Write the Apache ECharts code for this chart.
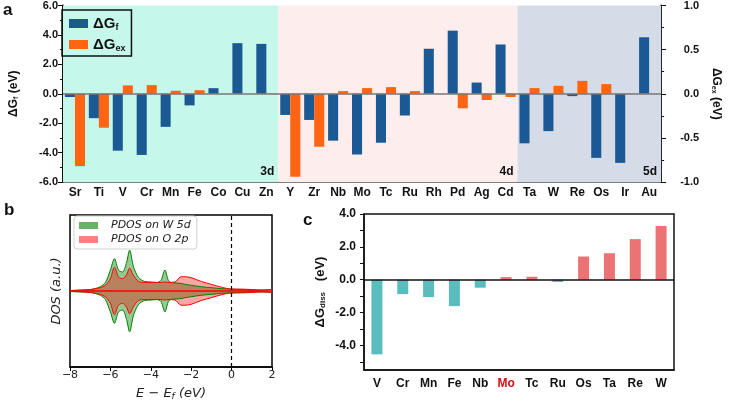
<!DOCTYPE html>
<html lang="en">
<head>
  <meta charset="UTF-8">
  <title>Formation / exchange / dissolution energies</title>
  <style>
    html, body { margin: 0; padding: 0; background: #fff; }
    #main { width: 730px; height: 402px; }
  </style>
</head>
<body>
  <div id="main"></div>
  <script src="https://cdn.jsdelivr.net/npm/echarts@6/dist/echarts.min.js"></script>
  <script>
    // ---- panel a: ΔGf (left axis) and ΔGex (right axis) per dopant
    var elements = ['Sr', 'Ti', 'V', 'Cr', 'Mn', 'Fe', 'Co', 'Cu', 'Zn',
                    'Y', 'Zr', 'Nb', 'Mo', 'Tc', 'Ru', 'Rh', 'Pd', 'Ag', 'Cd',
                    'Ta', 'W', 'Re', 'Os', 'Ir', 'Au'];
    var dGf = [-0.22, -1.66, -3.87, -4.16, -2.25, -0.79, 0.38, 3.44, 3.39,
               -1.44, -1.78, -3.19, -4.13, -3.33, -1.48, 3.06, 4.29, 0.76, 3.35,
               -3.37, -2.54, -0.16, -4.36, -4.70, 3.84];
    var dGex = [-0.82, -0.385, 0.094, 0.098, 0.034, 0.04, 0.0, 0.0, 0.005,
                -0.94, -0.60, 0.03, 0.064, 0.075, 0.03, 0.0, -0.165, -0.071, -0.037,
                0.064, 0.09, 0.146, 0.109, -0.003, 0.0];
    // shaded blocks: first and last element of each row
    var blocks = [
      { name: '3d', from: 'Sr', to: 'Zn', color: '#c6f7eb' },
      { name: '4d', from: 'Y',  to: 'Cd', color: '#fdeeed' },
      { name: '5d', from: 'Ta', to: 'Au', color: '#d5dbe7' }
    ];

    // ---- panel b: PDOS (arbitrary units)
    var dosE = [-8, -7.5, -7, -6.75, -6.5, -6.25, -6, -5.8, -5.6, -5.4, -5.2, -5.05, -4.85, -4.6,
                -4.3, -4, -3.7, -3.5, -3.3, -3.1, -2.8, -2.5, -2.3, -2, -1.5, -1, -0.5, 0,
                0.5, 1, 1.5, 2];
    var dosW5d = [0.05, 0.1, 0.15, 0.25, 0.45, 0.9, 2.2, 3.4, 2.2, 2.0, 3.0, 4.3, 2.5, 1.4,
                  1.0, 0.95, 0.9, 1.1, 2.2, 1.0, 0.85, 0.8, 0.7, 0.6, 0.45, 0.35, 0.25, 0.2,
                  0.15, 0.1, 0.1, 0.15];
    var dosO2p = [0.05, 0.08, 0.15, 0.25, 0.35, 0.6, 1.3, 2.5, 1.5, 1.3, 1.7, 2.4, 1.6, 1.0,
                  0.9, 0.9, 0.9, 0.9, 0.95, 0.9, 0.95, 1.5, 1.5, 1.4, 1.0, 0.7, 0.4, 0.2,
                  0.2, 0.15, 0.1, 0.15];

    // ---- panel c: ΔGdiss
    var dissElements = ['V', 'Cr', 'Mn', 'Fe', 'Nb', 'Mo', 'Tc', 'Ru', 'Os', 'Ta', 'Re', 'W'];
    var dGdiss = [-4.55, -0.88, -1.06, -1.61, -0.49, 0.16, 0.18, -0.14, 1.41, 1.61, 2.47, 3.27];
    var dissLabelTicks = [-4, -2, 0, 2, 4];
    var dissTicks = [-5, -4, -3, -2, -1, 0, 1, 2, 3, 4];

    var ARIAL = 'Liberation Sans, Arial, sans-serif';
    var DEJAVU = 'DejaVu Sans, sans-serif';

    function pairs(xs, ys, sign) {
      return xs.map(function (x, i) { return [x, sign * ys[i]]; });
    }
    function minusSign(v) {
      return v < 0 ? '\u2212' + Math.abs(v) : String(v);
    }

    var bgAreas = blocks.map(function (b) {
      return [
        { name: b.name, xAxis: elements.indexOf(b.from) - 0.5, itemStyle: { color: b.color } },
        { xAxis: elements.indexOf(b.to) + 0.5 }
      ];
    });

    var boldLabel = { fontFamily: ARIAL, fontWeight: 'bold', fontSize: 11, color: '#111' };

    var chart = echarts.init(document.getElementById('main'));

    var option = {
      animation: false,
      backgroundColor: '#fff',
      textStyle: { fontFamily: ARIAL },
      graphic: [
        { type: 'text', left: 3, top: 2, style: { text: 'a', font: 'bold 17px ' + ARIAL, fill: '#111' } },
        { type: 'text', left: 4, top: 202, style: { text: 'b', font: 'bold 17px ' + ARIAL, fill: '#111' } },
        { type: 'text', left: 303, top: 212, style: { text: 'c', font: 'bold 17px ' + ARIAL, fill: '#111' } }
      ],
      legend: [
        {
          data: ['ΔGf', 'ΔGex'],
          orient: 'vertical', left: 62, top: 10,
          padding: [6, 6, 3, 7], itemGap: 5,
          itemWidth: 19, itemHeight: 9, icon: 'rect',
          borderColor: '#111', borderWidth: 1.5,
          formatter: function (n) { return n === 'ΔGf' ? '{b|ΔG}{s|f}' : '{b|ΔG}{s|ex}'; },
          textStyle: {
            rich: {
              b: { fontFamily: ARIAL, fontWeight: 'bold', fontSize: 15, color: '#111' },
              s: { fontFamily: ARIAL, fontWeight: 'bold', fontSize: 9, color: '#111', padding: [8, 0, 0, 0] }
            }
          }
        },
        {
          data: [
            { name: 'PDOS on W 5d', icon: 'rect', itemStyle: { color: 'rgba(0,128,0,0.6)' } },
            { name: 'PDOS on O 2p', icon: 'rect', itemStyle: { color: 'rgba(255,0,0,0.5)' } }
          ],
          orient: 'vertical', left: 74, top: 216,
          padding: [4, 6, 4, 5], itemGap: 3,
          itemWidth: 19, itemHeight: 7,
          borderColor: '#d0d0d0', borderWidth: 1, borderRadius: 3,
          backgroundColor: 'rgba(255,255,255,0.8)',
          textStyle: { fontFamily: DEJAVU, fontStyle: 'italic', fontSize: 11, color: '#222', padding: [0, 0, 0, 8] }
        }
      ],
      grid: [
        { left: 55, top: 4, width: 622, height: 178 },
        { left: 70, top: 215, width: 202, height: 161, show: true, borderColor: '#000', borderWidth: 1.5 },
        { left: 364, top: 214, width: 310, height: 156, show: true, borderColor: '#111', borderWidth: 1.5 }
      ],
      xAxis: [
        {
          gridIndex: 0, type: 'category', data: elements,
          axisLine: { onZero: false, lineStyle: { color: '#555', width: 1.5 } },
          axisTick: { alignWithLabel: true, length: 3, lineStyle: { color: '#111' } },
          axisLabel: Object.assign({ margin: 5, interval: 0 }, boldLabel, { fontSize: 12 })
        },
        {
          gridIndex: 0, type: 'value', min: -0.5, max: elements.length - 0.5, show: false,
          axisLine: { show: false }, axisTick: { show: false }, axisLabel: { show: false },
          splitLine: { show: false }
        },
        {
          gridIndex: 1, type: 'value', min: -8, max: 2, interval: 2,
          axisLine: { onZero: false, lineStyle: { color: '#000', width: 1.5 } },
          axisTick: { length: 4, lineStyle: { color: '#000' } },
          splitLine: { show: false },
          axisLabel: { fontFamily: DEJAVU, fontSize: 11, color: '#222', margin: 3, formatter: minusSign },
          name: '{i|E \u2212 E}{s|f}{i| (eV)}', nameLocation: 'middle', nameGap: 19,
          nameTextStyle: {
            rich: {
              i: { fontFamily: DEJAVU, fontStyle: 'italic', fontSize: 13, color: '#222' },
              s: { fontFamily: DEJAVU, fontStyle: 'italic', fontSize: 9, color: '#222', padding: [6, 0, 0, 0] }
            }
          }
        },
        {
          gridIndex: 2, type: 'category', data: dissElements,
          axisLine: { onZero: false, lineStyle: { color: '#111', width: 1.5 } },
          axisTick: { alignWithLabel: true, length: 4, interval: 0, lineStyle: { color: '#111' } },
          axisLabel: Object.assign({
            margin: 8, interval: 0,
            formatter: function (v) { return v === 'Mo' ? '{r|Mo}' : v; },
            rich: { r: { fontFamily: ARIAL, fontWeight: 'bold', fontSize: 12, color: '#d01010' } }
          }, boldLabel, { fontSize: 12 })
        }
      ],
      yAxis: [
        {
          gridIndex: 0, type: 'value', min: -6, max: 6, interval: 2,
          axisLine: { show: true, onZero: false, lineStyle: { color: '#111', width: 2 } },
          axisTick: { show: true, length: 5, lineStyle: { color: '#111' } },
          minorTick: { show: true, splitNumber: 2, length: 3, lineStyle: { color: '#111' } },
          splitLine: { show: false },
          axisLabel: Object.assign({ margin: 5, formatter: function (v) { return v.toFixed(1); } }, boldLabel),
          name: '{b|ΔG}{s|f}{b| (eV)}', nameLocation: 'middle', nameRotate: 90, nameGap: 43,
          nameTextStyle: {
            rich: {
              b: { fontFamily: ARIAL, fontWeight: 'bold', fontSize: 12, color: '#111' },
              s: { fontFamily: ARIAL, fontWeight: 'bold', fontSize: 7, color: '#111', padding: [5, 0, 0, 0] }
            }
          }
        },
        {
          gridIndex: 0, type: 'value', position: 'right', min: -1, max: 1, interval: 0.5,
          axisLine: { show: true, onZero: false, lineStyle: { color: '#111', width: 2 } },
          axisTick: { show: true, length: 5, lineStyle: { color: '#111' } },
          minorTick: { show: true, splitNumber: 2, length: 3, lineStyle: { color: '#111' } },
          splitLine: { show: false },
          axisLabel: Object.assign({ margin: 38, align: 'right', formatter: function (v) { return v.toFixed(1); } }, boldLabel),
          name: '{b|ΔG}{s|ex}{b| (eV)}', nameLocation: 'middle', nameRotate: -90, nameGap: 47,
          nameTextStyle: {
            rich: {
              b: { fontFamily: ARIAL, fontWeight: 'bold', fontSize: 12, color: '#111' },
              s: { fontFamily: ARIAL, fontWeight: 'bold', fontSize: 7, color: '#111', padding: [5, 0, 0, 0] }
            }
          }
        },
        {
          gridIndex: 1, type: 'value', min: -8, max: 8,
          axisLine: { show: false }, axisTick: { show: false }, axisLabel: { show: false },
          splitLine: { show: false },
          name: 'DOS (a.u.)', nameLocation: 'middle', nameRotate: 90, nameGap: 7,
          nameTextStyle: { fontFamily: DEJAVU, fontStyle: 'italic', fontSize: 13, color: '#222' }
        },
        {
          gridIndex: 2, type: 'value', min: -5.5, max: 4,
          axisLine: { show: true, onZero: false, lineStyle: { color: '#111', width: 1.5 } },
          axisTick: { show: true, length: 4, customValues: dissTicks, lineStyle: { color: '#111' } },
          splitLine: { show: false },
          axisLabel: Object.assign({ margin: 8, customValues: dissLabelTicks,
            formatter: function (v) { return v.toFixed(1); } }, boldLabel, { fontSize: 12 }),
          name: '{b|ΔG}{s|diss}{b|   (eV)}', nameLocation: 'middle', nameRotate: 90, nameGap: 37,
          nameTextStyle: {
            rich: {
              b: { fontFamily: ARIAL, fontWeight: 'bold', fontSize: 13, color: '#111' },
              s: { fontFamily: ARIAL, fontWeight: 'bold', fontSize: 8, color: '#111', padding: [6, 0, 0, 0] }
            }
          }
        }
      ],
      series: [
        // block backgrounds
        {
          type: 'line', xAxisIndex: 1, yAxisIndex: 0, data: [], z: 0, silent: true,
          markArea: {
            silent: true,
            label: { show: true, position: 'insideBottomRight', distance: 4,
                     fontFamily: ARIAL, fontWeight: 'bold', fontSize: 12, color: '#111' },
            data: bgAreas
          }
        },
        {
          name: 'ΔGf', type: 'bar', xAxisIndex: 0, yAxisIndex: 0, data: dGf,
          barWidth: '42%', barGap: '0%', itemStyle: { color: '#1a5994' },
          markLine: {
            silent: true, symbol: 'none', label: { show: false },
            lineStyle: { color: '#777', width: 1.5, type: 'solid' },
            data: [{ yAxis: 0 }]
          }
        },
        {
          name: 'ΔGex', type: 'bar', xAxisIndex: 0, yAxisIndex: 1, data: dGex,
          barWidth: '42%', barGap: '0%', itemStyle: { color: '#ff6412' }
        },
        // PDOS, mirrored for the two spin channels
        {
          name: 'PDOS on W 5d', type: 'line', xAxisIndex: 2, yAxisIndex: 2, smooth: 0.3,
          showSymbol: false, data: pairs(dosE, dosW5d, 1),
          lineStyle: { color: 'green', width: 1 }, itemStyle: { color: 'green' },
          areaStyle: { color: 'rgba(0,128,0,0.6)' },
          markLine: {
            silent: true, symbol: 'none', label: { show: false },
            lineStyle: { color: '#000', width: 1.2, type: [4, 3] },
            data: [{ xAxis: 0 }]
          }
        },
        {
          name: 'PDOS on W 5d', type: 'line', xAxisIndex: 2, yAxisIndex: 2, smooth: 0.3,
          showSymbol: false, data: pairs(dosE, dosW5d, -1),
          lineStyle: { color: 'green', width: 1 }, itemStyle: { color: 'green' },
          areaStyle: { color: 'rgba(0,128,0,0.6)' }
        },
        {
          name: 'PDOS on O 2p', type: 'line', xAxisIndex: 2, yAxisIndex: 2, smooth: 0.3,
          showSymbol: false, data: pairs(dosE, dosO2p, 1),
          lineStyle: { color: 'red', width: 1 }, itemStyle: { color: 'red' },
          areaStyle: { color: 'rgba(255,0,0,0.5)' },
          markLine: {
            silent: true, symbol: 'none', label: { show: false },
            lineStyle: { color: 'red', width: 1.5, type: 'solid' },
            data: [{ yAxis: 0 }]
          }
        },
        {
          name: 'PDOS on O 2p', type: 'line', xAxisIndex: 2, yAxisIndex: 2, smooth: 0.3,
          showSymbol: false, data: pairs(dosE, dosO2p, -1),
          lineStyle: { color: 'red', width: 1 }, itemStyle: { color: 'red' },
          areaStyle: { color: 'rgba(255,0,0,0.5)' }
        },
        // panel c
        {
          type: 'bar', xAxisIndex: 3, yAxisIndex: 3, barWidth: 11,
          data: dGdiss.map(function (v) {
            return { value: v, itemStyle: { color: v < 0 ? '#5bbcbd' : '#ec7373' } };
          }),
          markLine: {
            silent: true, symbol: 'none', label: { show: false },
            lineStyle: { color: '#111', width: 1.5, type: 'solid' },
            data: [{ yAxis: 0 }]
          }
        }
      ]
    };

    chart.setOption(option);
  </script>
</body>
</html>
